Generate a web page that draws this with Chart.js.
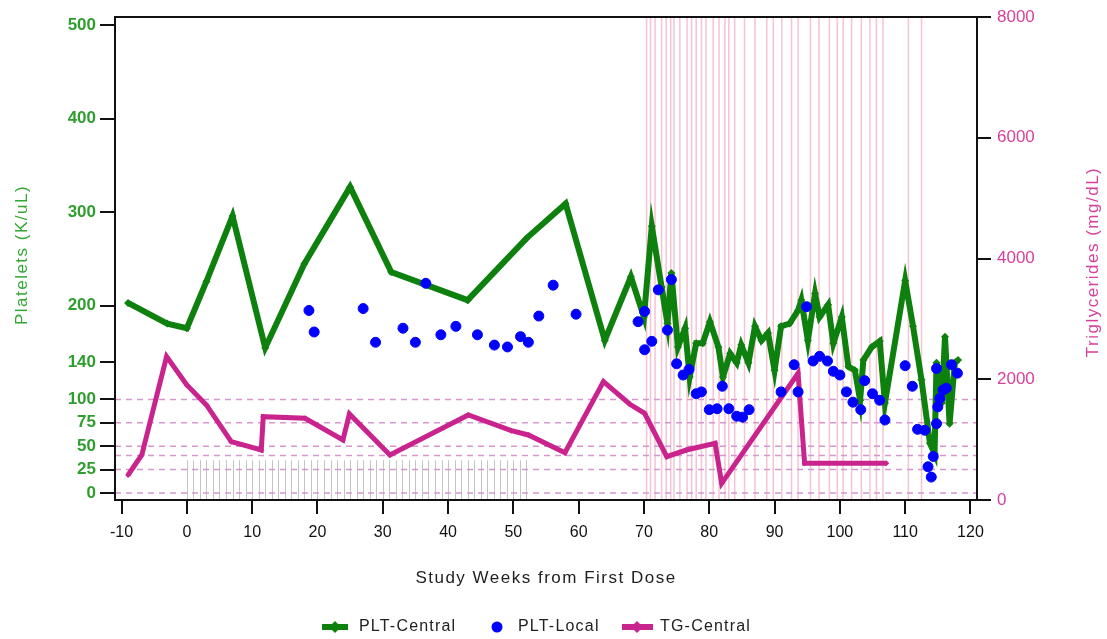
<!DOCTYPE html>
<html><head><meta charset="utf-8">
<script src="https://cdn.jsdelivr.net/npm/chart.js@4.4.1/dist/chart.umd.min.js"></script>
<style>html,body{margin:0;padding:0;background:#fff;}#wrap{width:1107px;height:639px;}</style>
</head><body><div id="wrap"><canvas id="c" width="1107" height="639"></canvas></div>
<script>
// ---- data ----
const pltCentralWeeks = [-9,-3,0,3,7,12,18,25,31.3,43,52,58,64,68,70,71.2,72.7,73.6,74.2,75.2,76.3,77,78,79,80.1,81.4,82.1,83.2,84.2,84.9,86,87,88,89,90,91,92.3,93.6,94.1,95.1,96.2,96.9,98.2,99,100.3,101.3,102.3,103.1,103.6,104.9,106.1,106.9,110,111.2,112.5,113.8,114.5,114.8,115.6,116.1,116.8,117.6,118.1];
const pltCentralValues = [203,181,176,226,296,155,245,327,236,206,272,309,163,231,188,285,220,181,235,156,176,124,160,160,183,156,124,149,139,158,139,178,163,171,131,178,181,195,206,163,213,188,201,160,188,135,131,99,142,156,162,96,227,178,121,53,42,139,96,167,74,139,142];
const pltLocalWeeks = [18.7,19.5,27,28.9,33.1,35,36.6,38.9,41.2,44.5,47.1,49.1,51.1,52.3,53.9,56.1,59.6,69.1,70.1,70.1,71.2,72.2,73.6,74.2,75,76,76.9,78,78.8,80,81.2,82,83,84.2,85.1,86.1,91,93,93.6,94.9,95.9,96.9,98.1,99,100,101,102,103.2,103.8,105,106.1,106.9,110,111.1,111.9,113,113.5,114,114.3,114.8,114.8,115,115.3,115.8,116.3,117.1,118];
const pltLocalValues = [195,172,197,161,176,161,224,169,178,169,158,156,167,161,189,222,191,183,194,153,162,217,174,228,138,126,132,106,108,89,90,114,90,82,81,89,108,137,108,199,141,146,141,130,126,108,97,89,120,106,99,78,136,114,68,67,28,17,39,133,74,92,101,110,112,137,128];
const tgWeeks = [-9,-6.9,-3.1,0,3,6.8,11.4,11.7,18.1,23.9,24.9,31.1,43.1,49.7,52.3,57.9,63.8,67.8,70.1,73.5,76.5,80.9,81.9,93.6,94.6,107.1];
const tgValues = [414,745,2374,1905,1574,966,828,1380,1353,994,1424,745,1408,1148,1077,784,1960,1590,1436,718,828,939,276,2099,607,607];
const xTickValues = [-10,0,10,20,30,40,50,60,70,80,90,100,110,120];
const leftTickValues = [0,25,50,75,100,140,200,300,400,500];
const rightTickValues = [0,2000,4000,6000,8000];
const refLineValues = [0,25,40,50,75,100];
const dosingWeeks = [0,1,2,3,4,5,6,7,8,9,10,11,12,13,14,15,16,17,18,19,20,21,22,23,24,25,26,27,28,29,30,31,32,33,34,35,36,37,38,39,40,41,42,43,44,45,46,47,48,49,50,51,52];
const dosingMarkTop = 35;
const tgEventWeeks = [70.4,71,71.7,72.7,73.4,74.1,74.6,75.5,76.6,77.3,78,78.8,79.5,80.6,81.5,82.4,83,83.9,85.4,87,88.8,89.8,91.1,92.6,93.6,95.5,96.8,98.4,99.6,100.5,101.8,103.3,104.6,105.6,106.6,110.5,112.5];
const seriesNames = ['PLT-Central','PLT-Local','TG-Central'];

const GREEN='#0e800e', BLUE='#0000ff', PINK='#c9248d';
const FONT='"Liberation Sans", Arial, sans-serif';
const zip=(xs,ys)=>xs.map((x,i)=>({x:x,y:ys[i]}));

const refPlugin={id:'refs',
 beforeDatasetsDraw(chart){
  const {ctx,chartArea:a,scales}=chart; const x=scales.x,y=scales.y;
  ctx.save();
  ctx.strokeStyle='#f6c3d2'; ctx.lineWidth=1.5;
  tgEventWeeks.forEach(w=>{const px=x.getPixelForValue(w);ctx.beginPath();ctx.moveTo(px,a.top);ctx.lineTo(px,a.bottom);ctx.stroke();});
  ctx.strokeStyle='#c4c4c4'; ctx.lineWidth=1;
  dosingWeeks.forEach(w=>{const px=Math.round(x.getPixelForValue(w))+0.5;ctx.beginPath();ctx.moveTo(px,a.bottom);ctx.lineTo(px,y.getPixelForValue(dosingMarkTop));ctx.stroke();});
  ctx.strokeStyle='#d596cf'; ctx.lineWidth=1.5; ctx.setLineDash([6,5]);
  refLineValues.forEach(v=>{const py=y.getPixelForValue(v);ctx.beginPath();ctx.moveTo(a.left,py);ctx.lineTo(a.right,py);ctx.stroke();});
  ctx.restore();
 },
 afterDraw(chart){
  const {ctx,chartArea:a}=chart;
  ctx.save();
  ctx.strokeStyle='#111'; ctx.lineWidth=2; ctx.strokeRect(a.left,a.top,a.right-a.left,a.bottom-a.top);
  ctx.textAlign='center'; ctx.textBaseline='middle';
  const ls=v=>{if('letterSpacing' in ctx) ctx.letterSpacing=v;};
  ls('1.5px');
  ctx.font='17px '+FONT;
  ctx.fillStyle='#222'; ctx.fillText('Study Weeks from First Dose',(a.left+a.right)/2,578);
  ctx.save(); ctx.translate(22,255); ctx.rotate(-Math.PI/2); ctx.fillStyle='#33a833'; ctx.fillText('Platelets (K/uL)',0,0); ctx.restore();
  ctx.save(); ctx.translate(1093,262); ctx.rotate(-Math.PI/2); ctx.fillStyle='#d6409c'; ctx.fillText('Triglycerides (mg/dL)',0,0); ctx.restore();
  // legend
  const ly=627; ctx.textAlign='left'; ctx.font='16px '+FONT; ls('1.2px');
  const diamond=(cx,cy,r,c)=>{ctx.fillStyle=c;ctx.beginPath();ctx.moveTo(cx,cy-r);ctx.lineTo(cx+r,cy);ctx.lineTo(cx,cy+r);ctx.lineTo(cx-r,cy);ctx.closePath();ctx.fill();};
  ctx.lineWidth=6; ctx.strokeStyle=GREEN; ctx.beginPath(); ctx.moveTo(322,ly); ctx.lineTo(348,ly); ctx.stroke(); diamond(335,ly,6,GREEN);
  ctx.fillStyle='#222'; ctx.fillText(seriesNames[0],359,ly);
  ctx.fillStyle=BLUE; ctx.beginPath(); ctx.arc(497,ly,5.5,0,Math.PI*2); ctx.fill();
  ctx.fillStyle='#222'; ctx.fillText(seriesNames[1],518,ly);
  ctx.lineWidth=6; ctx.strokeStyle=PINK; ctx.beginPath(); ctx.moveTo(622,ly); ctx.lineTo(653,ly); ctx.stroke(); diamond(637,ly,6,PINK);
  ctx.fillStyle='#222'; ctx.fillText(seriesNames[2],660,ly);
  ctx.restore();
 }};

new Chart(document.getElementById('c'),{
 type:'line',
 data:{datasets:[
  {label:seriesNames[1],data:zip(pltLocalWeeks,pltLocalValues),yAxisID:'y',showLine:false,pointRadius:5,pointBackgroundColor:BLUE,pointBorderColor:BLUE,borderColor:BLUE,backgroundColor:BLUE,order:0},
  {label:seriesNames[0],data:zip(pltCentralWeeks,pltCentralValues),yAxisID:'y',borderColor:GREEN,backgroundColor:GREEN,borderWidth:6,borderJoinStyle:'miter',pointStyle:'rectRot',pointRadius:4,pointBackgroundColor:GREEN,pointBorderColor:GREEN,pointBorderWidth:0,tension:0,order:1},
  {label:seriesNames[2],data:zip(tgWeeks,tgValues),yAxisID:'y2',borderColor:PINK,backgroundColor:PINK,borderWidth:5,borderJoinStyle:'miter',pointStyle:'rectRot',pointRadius:3,pointBackgroundColor:PINK,pointBorderColor:PINK,pointBorderWidth:0,tension:0,order:2}
 ]},
 options:{responsive:false,animation:false,devicePixelRatio:1,
  layout:{padding:{top:17,left:0,right:0,bottom:0}},
  plugins:{legend:{display:false},tooltip:{enabled:false}},
  scales:{
   x:{type:'linear',position:'bottom',min:-11,max:121,
     afterBuildTicks:s=>{s.ticks=xTickValues.map(v=>({value:v}));},
     afterFit:s=>{s.height=139;},
     ticks:{autoSkip:false,maxRotation:0,color:'#111',font:{size:16,family:FONT},padding:9,callback:v=>String(v)},
     grid:{drawOnChartArea:false,tickLength:14,color:'#111',lineWidth:2},border:{display:true,color:'#111',width:2}},
   y:{type:'linear',position:'left',min:-7.5,max:508.5,
     afterBuildTicks:s=>{s.ticks=leftTickValues.map(v=>({value:v}));},
     afterFit:s=>{s.width=115;},
     ticks:{autoSkip:false,color:'#2f9e2f',font:{size:17,weight:'bold',family:FONT},padding:4,callback:v=>String(v)},
     grid:{drawOnChartArea:false,tickLength:15,color:'#111',lineWidth:2},border:{display:true,color:'#111',width:2}},
   y2:{type:'linear',position:'right',min:0,max:8000,
     afterBuildTicks:s=>{s.ticks=rightTickValues.map(v=>({value:v}));},
     afterFit:s=>{s.width=130;},
     ticks:{autoSkip:false,color:'#d6409c',font:{size:17,family:FONT},padding:6,callback:v=>String(v)},
     grid:{drawOnChartArea:false,tickLength:14,color:'#111',lineWidth:2},border:{display:true,color:'#111',width:2}}
  }},
 plugins:[refPlugin]
});
</script></body></html>
